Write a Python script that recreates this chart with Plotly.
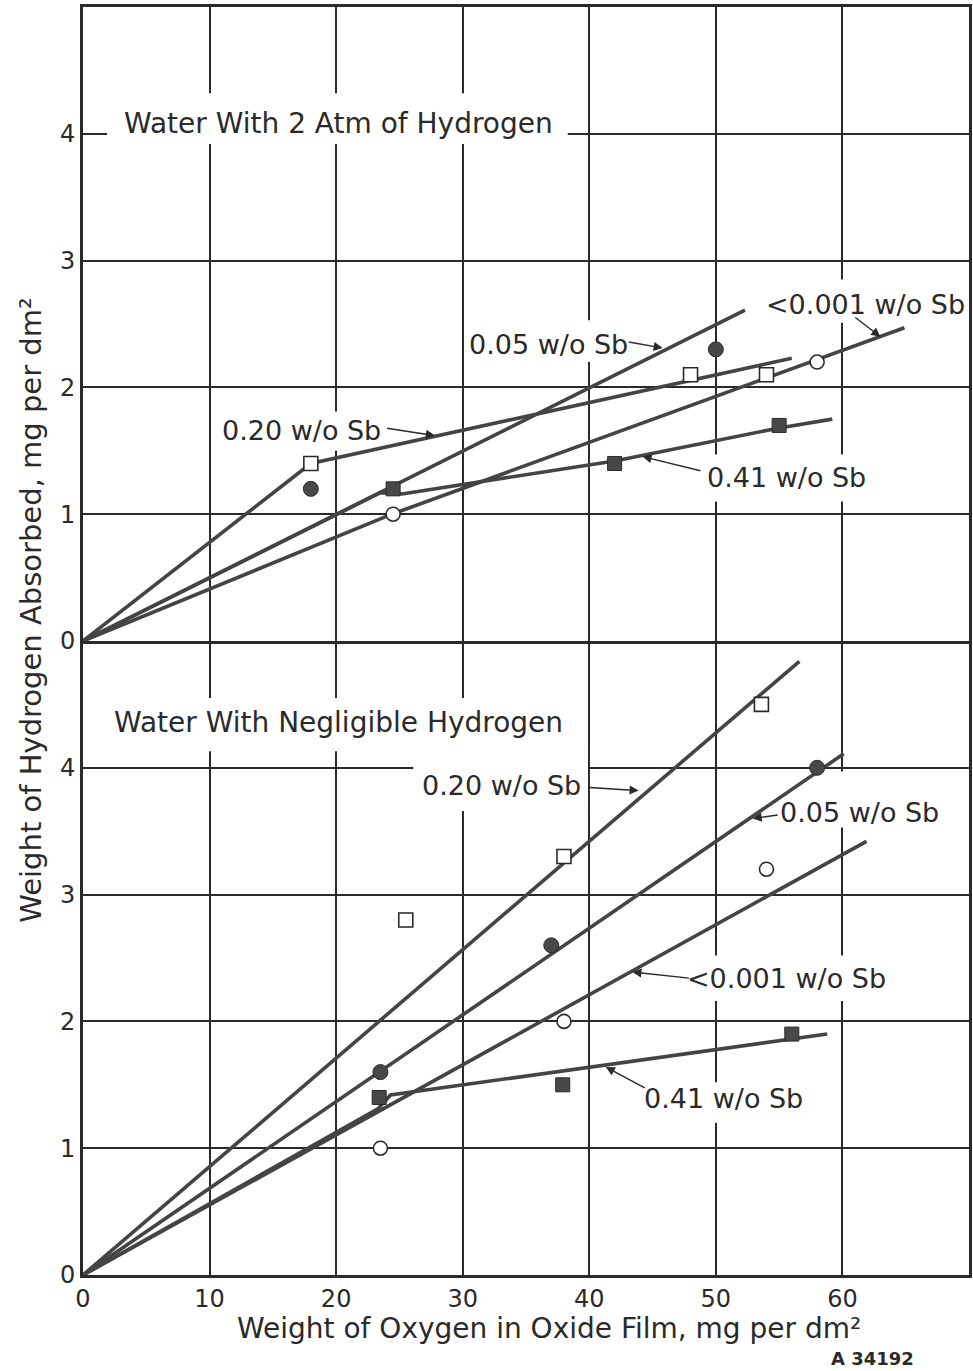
import plotly.graph_objects as go
from plotly.subplots import make_subplots

# ---------------- data ----------------
x_ticks = [0, 10, 20, 30, 40, 50, 60]
y_ticks = [0, 1, 2, 3, 4]

# Top panel: Water With 2 Atm of Hydrogen (measured points)
top_020_x = [18, 48, 54]
top_020_y = [1.4, 2.1, 2.1]
top_005_x = [18, 50]
top_005_y = [1.2, 2.3]
top_0001_x = [24.5, 58]
top_0001_y = [1.0, 2.2]
top_041_x = [24.5, 42, 55]
top_041_y = [1.2, 1.4, 1.7]

# Top panel drawn curves
top_fit_020_x = [0, 18, 56]
top_fit_020_y = [0, 1.4, 2.23]
top_fit_005_x = [0, 52.3]
top_fit_005_y = [0, 2.61]
top_fit_0001_x = [0, 24.4, 64.9]
top_fit_0001_y = [0, 1.0, 2.47]
top_fit_041_x = [0, 23.5, 25.2, 42, 55, 59.2]
top_fit_041_y = [0, 1.17, 1.16, 1.42, 1.68, 1.75]

# Bottom panel: Water With Negligible Hydrogen (measured points)
bot_020_x = [25.5, 38, 53.6]
bot_020_y = [2.8, 3.3, 4.5]
bot_005_x = [23.5, 37, 58]
bot_005_y = [1.6, 2.6, 4.0]
bot_0001_x = [23.5, 38, 54]
bot_0001_y = [1.0, 2.0, 3.2]
bot_041_x = [23.4, 37.9, 56]
bot_041_y = [1.4, 1.5, 1.9]

# Bottom panel drawn curves
bot_fit_020_x = [0, 56.6]
bot_fit_020_y = [0, 4.84]
bot_fit_005_x = [0, 60.1]
bot_fit_005_y = [0, 4.11]
bot_fit_0001_x = [0, 61.9]
bot_fit_0001_y = [0, 3.42]
bot_fit_041_x = [0, 23.3, 24.3, 58.8]
bot_fit_041_y = [0, 1.31, 1.42, 1.90]

# ---------------- styles ----------------
INK = "#2a2a2a"
LINE = "#444444"
FILL = "#484848"
FONT = "DejaVu Sans"

styles = {
    "0.20": dict(symbol="square", size=14, color="white", line=dict(color=INK, width=1.6)),
    "0.05": dict(symbol="circle", size=15, color=FILL, line=dict(color=INK, width=1)),
    "0.001": dict(symbol="circle", size=14, color="white", line=dict(color=INK, width=1.6)),
    "0.41": dict(symbol="square", size=14, color=FILL, line=dict(color=INK, width=1)),
}

fig = make_subplots(rows=2, cols=1, shared_xaxes=True, vertical_spacing=0)

def add_line(x, y, row):
    fig.add_trace(go.Scatter(x=x, y=y, mode="lines", line=dict(color=LINE, width=3.6),
                             hoverinfo="skip"), row=row, col=1)

def add_pts(x, y, key, row):
    fig.add_trace(go.Scatter(x=x, y=y, mode="markers", marker=styles[key]), row=row, col=1)

for fx, fy in [(top_fit_020_x, top_fit_020_y), (top_fit_005_x, top_fit_005_y),
               (top_fit_0001_x, top_fit_0001_y), (top_fit_041_x, top_fit_041_y)]:
    add_line(fx, fy, 1)
for fx, fy in [(bot_fit_020_x, bot_fit_020_y), (bot_fit_005_x, bot_fit_005_y),
               (bot_fit_0001_x, bot_fit_0001_y), (bot_fit_041_x, bot_fit_041_y)]:
    add_line(fx, fy, 2)

add_pts(top_020_x, top_020_y, "0.20", 1)
add_pts(top_005_x, top_005_y, "0.05", 1)
add_pts(top_0001_x, top_0001_y, "0.001", 1)
add_pts(top_041_x, top_041_y, "0.41", 1)
add_pts(bot_020_x, bot_020_y, "0.20", 2)
add_pts(bot_005_x, bot_005_y, "0.05", 2)
add_pts(bot_0001_x, bot_0001_y, "0.001", 2)
add_pts(bot_041_x, bot_041_y, "0.41", 2)

axis_common = dict(showgrid=True, gridcolor=INK, gridwidth=2, showline=True, linecolor=INK,
                   linewidth=3, zeroline=False, ticks="",
                   tickfont=dict(family=FONT, size=24, color=INK))
fig.update_xaxes(range=[0, 70], tickvals=x_ticks, **axis_common)
fig.update_yaxes(range=[0, 5], tickvals=y_ticks, mirror=True, **axis_common)
fig.update_xaxes(mirror=True, row=1, col=1)
fig.update_xaxes(mirror=False, ticklabelstandoff=0, row=2, col=1)

annotations = []
shapes = []

def label(text, x, y, row, size=27):
    r = "" if row == 1 else "2"
    annotations.append(dict(text=text, x=x, y=y, xref="x" + r, yref="y" + r, showarrow=False,
                            xanchor="center", yanchor="middle",
                            font=dict(family=FONT, size=size, color=INK)))

def arrow(tx, ty, hx, hy, row):
    r = "" if row == 1 else "2"
    annotations.append(dict(text="", x=hx, y=hy, ax=tx, ay=ty, xref="x" + r, yref="y" + r,
                            axref="x" + r, ayref="y" + r, showarrow=True, arrowhead=2,
                            arrowsize=1.3, arrowwidth=1.4, arrowcolor=INK,
                            standoff=0, startstandoff=0))

def mask(x0, x1, y0, y1, row):
    r = "" if row == 1 else "2"
    shapes.append(dict(type="rect", xref="x" + r, yref="y" + r, x0=x0, x1=x1, y0=y0, y1=y1,
                       fillcolor="white", line=dict(width=0), layer="between"))

# top panel
mask(1.9, 38.3, 3.92, 4.32, 1)
label("Water With 2 Atm of Hydrogen", 20.2, 4.08, 1, size=28)
mask(10.6, 23.9, 1.5, 1.81, 1)
label("0.20 w/o Sb", 17.3, 1.66, 1)
arrow(23.9, 1.68, 27.8, 1.62, 1)
mask(30.5, 43.2, 2.2, 2.53, 1)
label("0.05 w/o Sb", 36.8, 2.34, 1)
arrow(43.0, 2.36, 45.8, 2.31, 1)
mask(54.2, 69.6, 2.51, 2.85, 1)
label("&lt;0.001 w/o Sb", 61.8, 2.65, 1)
arrow(60.9, 2.56, 63.0, 2.40, 1)
mask(49.0, 62.3, 1.1, 1.47, 1)
label("0.41 w/o Sb", 55.55, 1.29, 1)
arrow(48.9, 1.34, 44.2, 1.455, 1)

# bottom panel
mask(1.9, 38.3, 4.13, 4.55, 2)
label("Water With Negligible Hydrogen", 20.2, 4.36, 2, size=28)
mask(26.1, 39.9, 3.66, 4.16, 2)
label("0.20 w/o Sb", 33.1, 3.86, 2)
arrow(39.9, 3.845, 43.9, 3.82, 2)
mask(54.8, 67.8, 3.53, 3.97, 2)
label("0.05 w/o Sb", 61.35, 3.65, 2)
arrow(55.0, 3.63, 52.9, 3.6, 2)
mask(47.8, 63.3, 2.16, 2.52, 2)
label("&lt;0.001 w/o Sb", 55.6, 2.34, 2)
arrow(48.0, 2.34, 43.4, 2.39, 2)
mask(44.3, 57.0, 1.2, 1.52, 2)
label("0.41 w/o Sb", 50.6, 1.39, 2)
arrow(44.5, 1.47, 41.3, 1.64, 2)

# axis titles and figure number
annotations.append(dict(text="Weight of Oxygen in Oxide Film, mg per dm²",
                        x=0.526, y=-0.0418, xref="paper", yref="paper", showarrow=False,
                        xanchor="center", yanchor="middle",
                        font=dict(family=FONT, size=28, color=INK)))
annotations.append(dict(text="Weight of Hydrogen Absorbed, mg per dm²",
                        x=-0.0596, y=0.524, xref="paper", yref="paper", showarrow=False,
                        textangle=-90, xanchor="center", yanchor="middle",
                        font=dict(family=FONT, size=29, color=INK)))
annotations.append(dict(text="<b>A 34192</b>", x=0.891, y=-0.0655, xref="paper", yref="paper",
                        showarrow=False, xanchor="center", yanchor="middle",
                        font=dict(family=FONT, size=18, color=INK)))

fig.update_layout(width=973, height=1371, margin=dict(l=83, r=1, t=7, b=96),
                  plot_bgcolor="white", paper_bgcolor="white", showlegend=False,
                  font=dict(family=FONT, color=INK), annotations=annotations, shapes=shapes)

fig.write_html("out.html")
